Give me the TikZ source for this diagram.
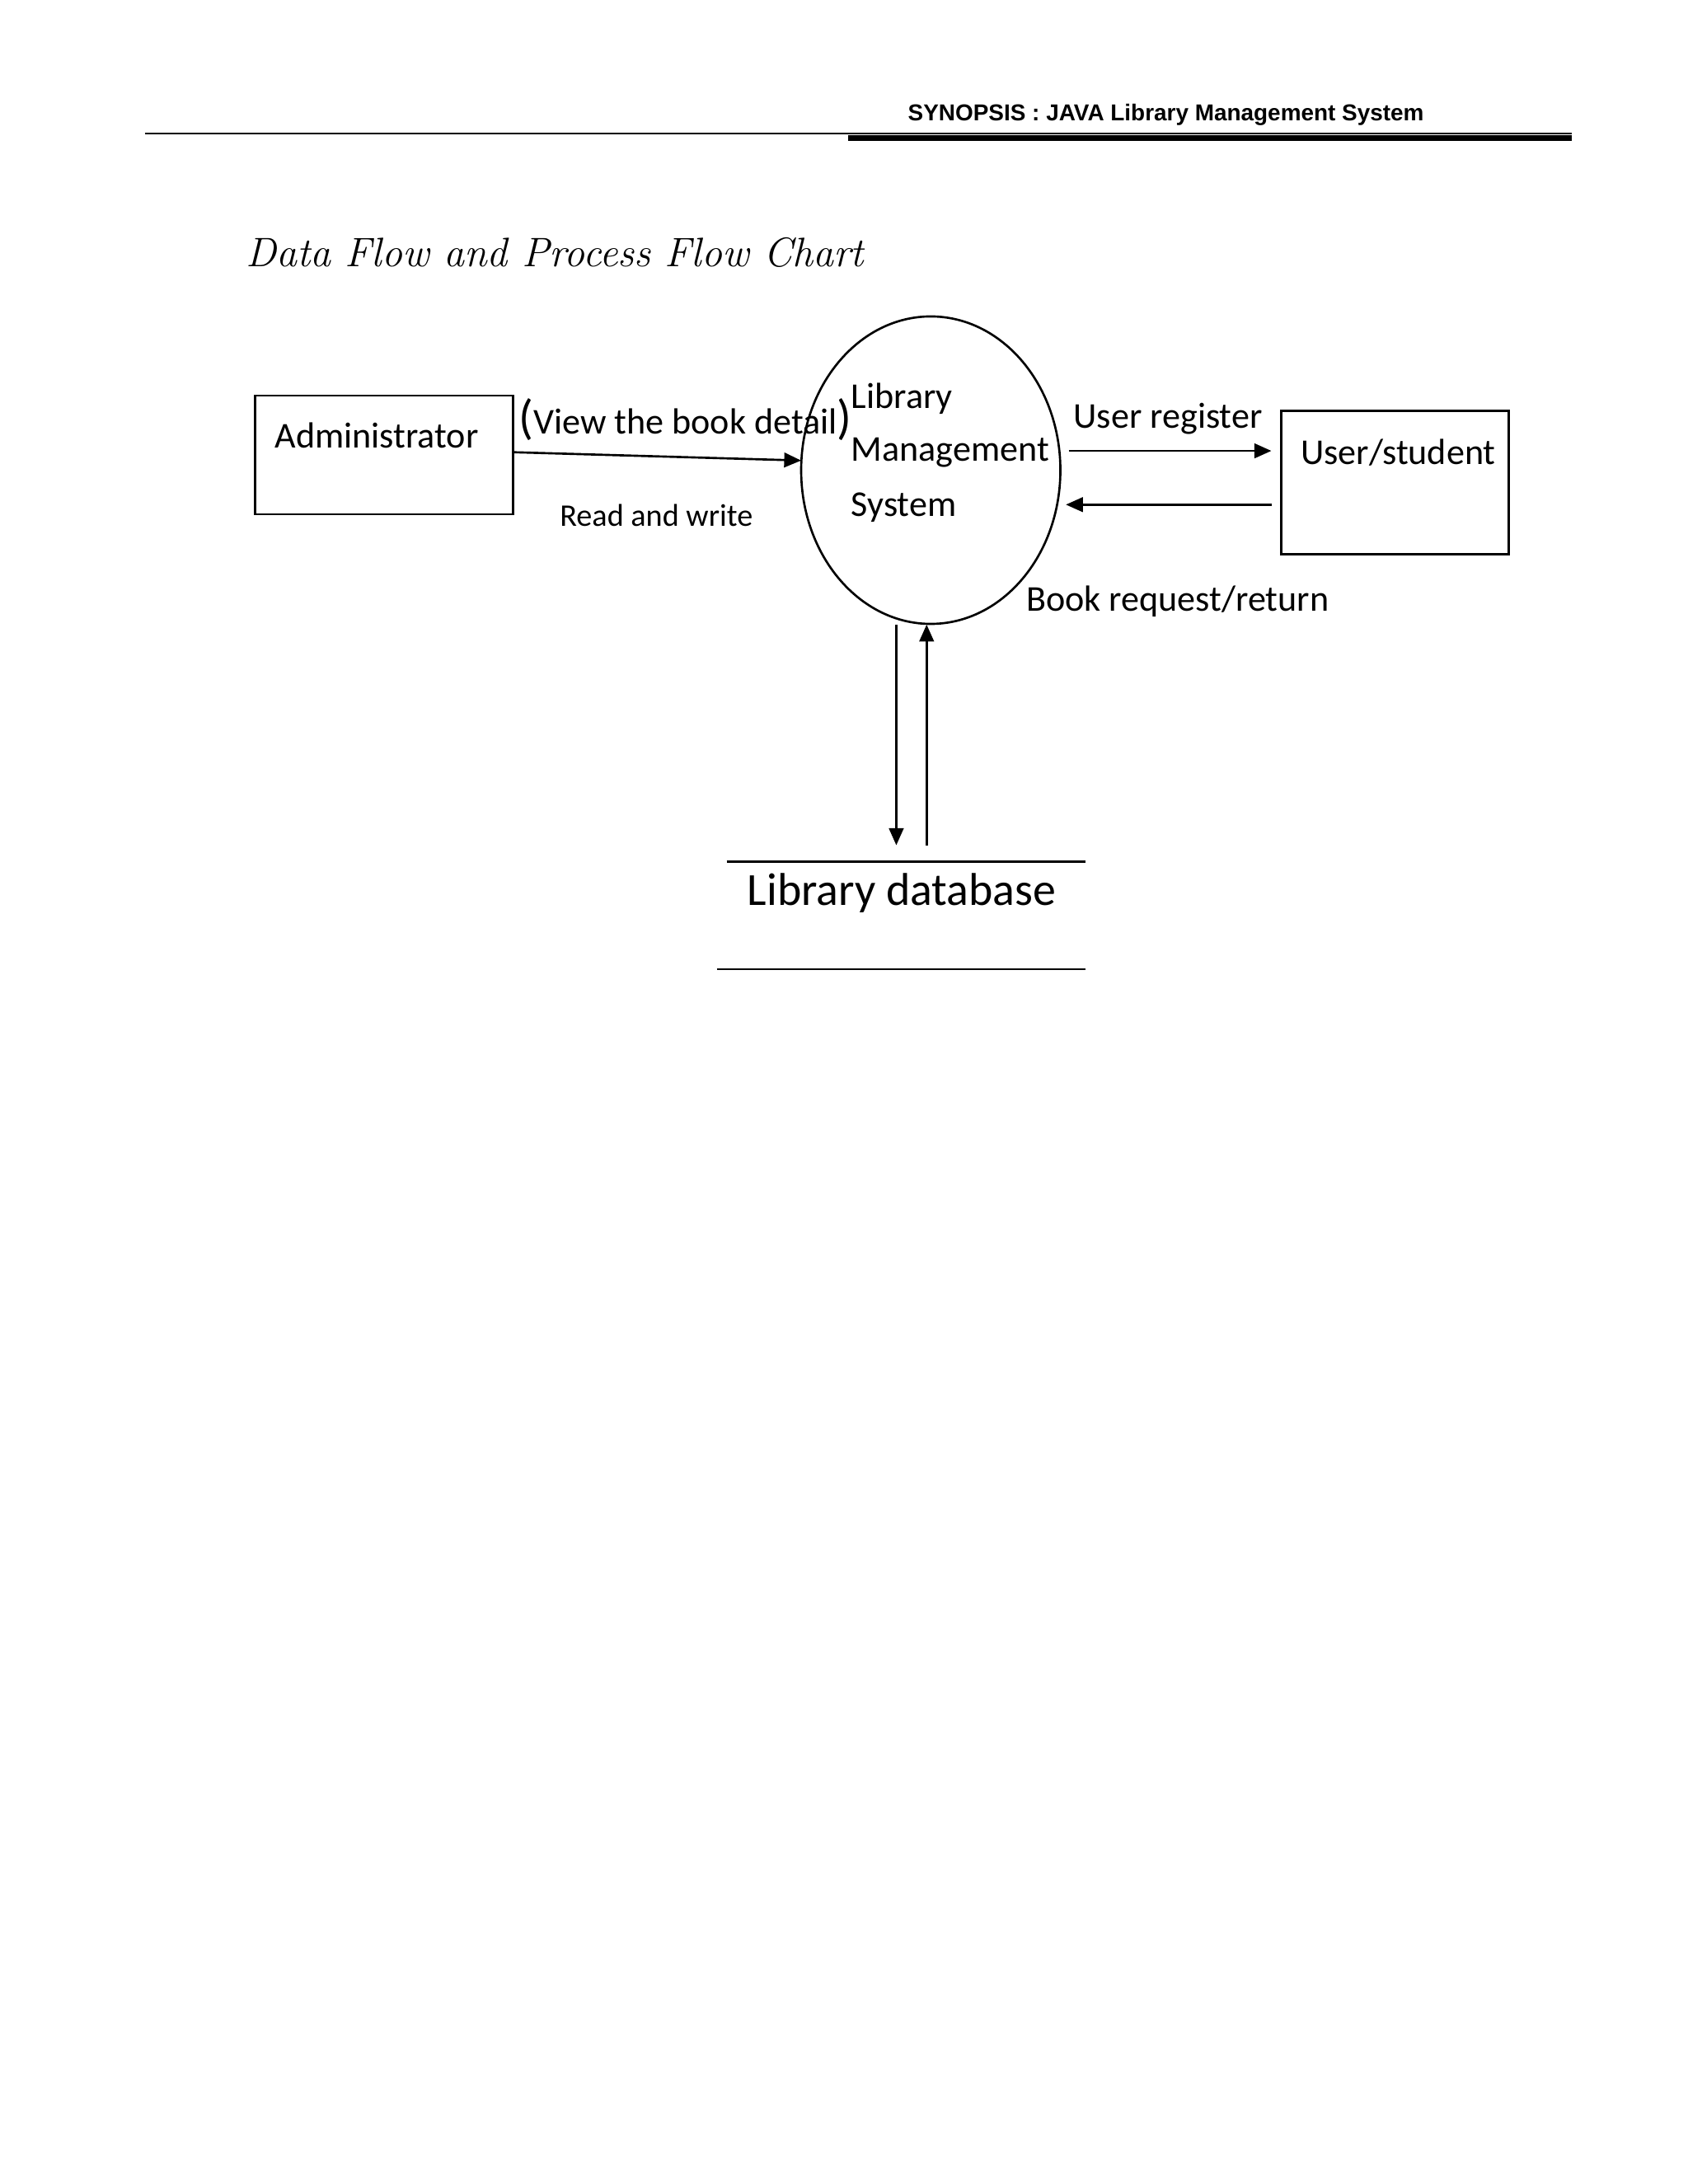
\documentclass[tikz,border=0pt]{standalone}
\usepackage{fontspec}
\setmainfont{Carlito}
\newfontfamily\hdr{Liberation Sans}
\newfontfamily\lmr{Latin Modern Roman}
\usetikzlibrary{arrows.meta,shapes.geometric}
\begin{document}
\begin{tikzpicture}[x=0.02cm,y=-0.02cm,
  box/.style={draw,line width=0.9pt,inner sep=0pt},
  lbl/.style={font=\fontsize{15}{17}\selectfont,inner sep=0pt},
  flow/.style={line width=0.9pt,-{Triangle[length=7pt,width=6pt]}}]
\fill[white] (0,0) rectangle (1224,1584);
\useasboundingbox (0,0) rectangle (1224,1584);
\node[font=\hdr\bfseries\fontsize{9.5}{11}\selectfont,anchor=east,inner sep=0pt] (hdr) at (1033,83) {SYNOPSIS : JAVA Library Management System};
\draw[line width=0.6pt] (105,97) -- (1140,97);
\draw[line width=2.2pt] (615,100) -- (1140,100);
\node[font=\lmr\itshape\fontsize{17}{20}\selectfont,anchor=west,inner sep=0pt] (title) at (178,183) {Data Flow and Process Flow Chart};
\node[box,minimum width=187*0.02cm,minimum height=86*0.02cm] (adm) at (278.5,330) {};
\node[lbl,anchor=west] at (199,316) {Administrator};
\node[box,minimum width=165*0.02cm,minimum height=104*0.02cm] (usr) at (1011.5,350) {};
\node[lbl,anchor=west] at (943,328) {User/student};
\node[draw,line width=0.9pt,ellipse,minimum width=188*0.02cm,minimum height=223*0.02cm,inner sep=0pt] (lms) at (675,341) {};
\node[lbl,anchor=west] at (617,289) {Library};
\node[lbl,anchor=west] at (617,328) {Management};
\node[lbl,anchor=west] at (617,368) {System};
\draw[flow] (adm.east |- 0,328) -- (581,334);
\node[lbl] at (497,304) {{\fontsize{20}{20}\selectfont(}View the book detail{\fontsize{20}{20}\selectfont)}};
\node[lbl,font=\fontsize{13}{15}\selectfont] at (476,374) {Read and write};
\coordinate (ur1) at (775,327);
\coordinate (ur2) at (922,327);
\draw[flow] (ur1) -- (ur2);
\node[lbl] at (847,304) {User register};
\coordinate (br1) at (922,366);
\coordinate (br2) at (773,366);
\draw[flow] (br1) -- (br2);
\node[lbl] at (854,436) {Book request/return};
\coordinate (d1) at (650,453);
\coordinate (d2) at (650,613);
\coordinate (u1) at (672,613);
\coordinate (u2) at (672,453);
\draw[flow] (d1) -- (d2);
\draw[flow] (u1) -- (u2);
\draw[line width=0.9pt] (527,625) -- (787,625);
\draw[line width=0.9pt] (520,703) -- (787,703);
\node[lbl,font=\fontsize{19}{21}\selectfont] (db) at (654,648) {Library database};
\end{tikzpicture}
\end{document}
